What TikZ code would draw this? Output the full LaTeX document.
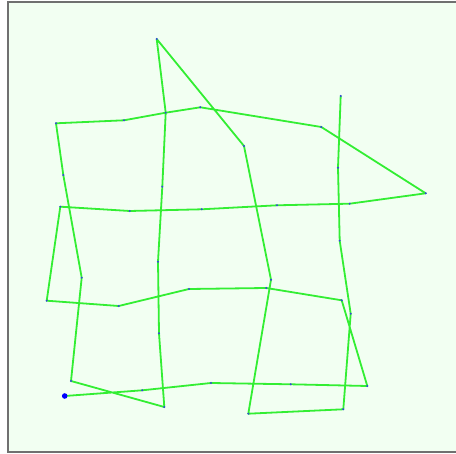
\documentclass[tikz,border=0pt]{standalone}
\definecolor{bgfill}{HTML}{F2FFF2}
\definecolor{framegray}{HTML}{707070}
\definecolor{walkgreen}{HTML}{33EE33}
\definecolor{dotblue}{HTML}{3344DD}
\tikzset{
  walk/.style={draw=walkgreen, line width=1.8pt, line join=round, line cap=round},
  vdot/.style={fill=dotblue},
}
\begin{document}
\begin{tikzpicture}[x=1pt,y=-1pt]
\useasboundingbox (0,0) rectangle (456,454);
\fill[white] (0,0) rectangle (456,454);
\draw[framegray, line width=2pt, fill=bgfill] (8,2) rectangle (470,452);
% points
\coordinate (s)   at (64.7,396);
\coordinate (p1)  at (142.3,390.3);
\coordinate (p2)  at (211,383);
\coordinate (p3)  at (290.7,384.3);
\coordinate (p4)  at (367.3,386);
\coordinate (p5)  at (341.7,300.3);
\coordinate (p6)  at (266.3,288);
\coordinate (p7)  at (189,289);
\coordinate (p8)  at (118.7,306);
\coordinate (p9)  at (46.7,300.7);
\coordinate (p10) at (60.3,206.7);
\coordinate (p11) at (129.7,211);
\coordinate (p12) at (201.7,209.3);
\coordinate (p13) at (277,205.3);
\coordinate (p14) at (349.7,203.7);
\coordinate (p15) at (425.7,193.3);
\coordinate (p16) at (321.3,127);
\coordinate (p17) at (200.3,107.3);
\coordinate (p18) at (165.7,112.7);
\coordinate (p19) at (124,120.3);
\coordinate (p20) at (56,123.3);
\coordinate (p21) at (63.3,175);
\coordinate (p22) at (81.7,277.7);
\coordinate (p23) at (71,381);
\coordinate (p24) at (164.3,407);
\coordinate (p25) at (159,333.3);
\coordinate (p26) at (158,261.7);
\coordinate (p27) at (162.3,186.7);
\coordinate (p28) at (156.7,39);
\coordinate (p29) at (244,146);
\coordinate (p30) at (271,279.7);
\coordinate (p31) at (248.3,413.7);
\coordinate (p32) at (343.3,409.3);
\coordinate (p33) at (350.7,313.7);
\coordinate (p34) at (339.7,240.7);
\coordinate (p35) at (338,167.7);
\coordinate (p36) at (340.7,96);
% walk
\draw[walk] (s) -- (p1) -- (p2) -- (p3) -- (p4) -- (p5) -- (p6) -- (p7) -- (p8) -- (p9)
  -- (p10) -- (p11) -- (p12) -- (p13) -- (p14) -- (p15) -- (p16) -- (p17) -- (p18) -- (p19)
  -- (p20) -- (p21) -- (p22) -- (p23) -- (p24) -- (p25) -- (p26) -- (p27) -- (p18) -- (p28)
  -- (p29) -- (p30) -- (p31) -- (p32) -- (p33) -- (p34) -- (p35) -- (p36);
% dots
\foreach \p in {p1,p2,p3,p4,p5,p6,p7,p8,p9,p10,p11,p12,p13,p14,p15,p16,p17,p18,p19,p20,p21,p22,p23,p24,p25,p26,p27,p28,p29,p30,p31,p32,p33,p34,p35,p36}
  \fill[vdot] (\p) circle (1.1pt);
\fill[blue] (s) circle (2.8pt);
\end{tikzpicture}
\end{document}
